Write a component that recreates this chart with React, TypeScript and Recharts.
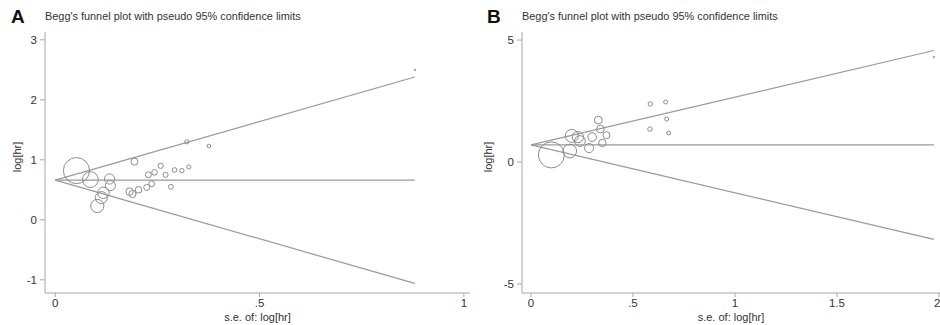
import React from 'react'
import { ComposedChart, Scatter, XAxis, YAxis, ZAxis, ReferenceLine } from 'recharts'

// Panel A: standard errors and log hazard ratios
const seA = [0.052, 0.086, 0.133, 0.135, 0.118, 0.113, 0.103, 0.194, 0.182, 0.189, 0.204, 0.224, 0.236, 0.228, 0.243, 0.258, 0.27, 0.283, 0.292, 0.31, 0.327, 0.322, 0.376, 0.88]
const logHrA = [0.82, 0.67, 0.68, 0.57, 0.45, 0.37, 0.23, 0.97, 0.47, 0.43, 0.5, 0.54, 0.6, 0.75, 0.79, 0.9, 0.75, 0.55, 0.83, 0.82, 0.88, 1.3, 1.23, 2.5]
const centerA = [{ se: 0, v: 0.66 }, { se: 0.88, v: 0.66 }]
const upperA = [{ se: 0, v: 0.66 }, { se: 0.88, v: 2.38 }]
const lowerA = [{ se: 0, v: 0.66 }, { se: 0.88, v: -1.06 }]
const xTicksA = [0, 0.5, 1]
const yTicksA = [-1, 0, 1, 2, 3]

// Panel B
const seB = [0.1, 0.19, 0.2, 0.23, 0.24, 0.3, 0.285, 0.33, 0.34, 0.37, 0.35, 0.585, 0.66, 0.665, 0.583, 0.675, 1.975]
const logHrB = [0.29, 0.45, 1.07, 1.02, 0.86, 1.02, 0.57, 1.72, 1.35, 1.1, 0.78, 2.38, 2.46, 1.76, 1.35, 1.19, 4.3]
const centerB = [{ se: 0, v: 0.7 }, { se: 1.975, v: 0.7 }]
const upperB = [{ se: 0, v: 0.7 }, { se: 1.975, v: 4.57 }]
const lowerB = [{ se: 0, v: 0.7 }, { se: 1.975, v: -3.17 }]
const xTicksB = [0, 0.5, 1, 1.5, 2]
const yTicksB = [-5, 0, 5]

const TITLE = "Begg's funnel plot with pseudo 95% confidence limits"
const FONT = '"Liberation Sans", Arial, sans-serif'
const AXIS = '#a8a8a8'
const LINE = '#9a9a9a'
const MARK = '#8c8c8c'

const fmt = (v: number) => {
  if (v === 0) return '0'
  if (Number.isInteger(v)) return String(v)
  return String(v).replace(/^0\./, '.')
}

const Circle = (props: any) => {
  const r = Math.max((props.width || 0) / 2, 0.7)
  return <circle cx={props.cx} cy={props.cy} r={r} fill="none" stroke={MARK} strokeWidth={1} />
}

function Funnel({ se, logHr, center, upper, lower, xDomain, yDomain, xTicks, yTicks, zDomain, zRange, yWidth }: any) {
  const table = se.map((s: number, i: number) => ({ se: s, v: logHr[i], w: 1 / (s * s) }))
  const seg = (pts: any[]) => pts.map((p) => ({ x: p.se, y: p.v }))
  const tick = { fontSize: 11.5, fill: '#333', fontFamily: FONT }
  return (
    <ComposedChart width={470} height={325} margin={{ top: 32, right: 0, bottom: 0, left: 0 }}>
      <XAxis
        type="number"
        dataKey="se"
        domain={xDomain}
        ticks={xTicks}
        tickFormatter={fmt}
        allowDataOverflow
        height={32}
        stroke={AXIS}
        tick={tick}
        tickSize={4}
        tickMargin={2}
        label={{ value: 's.e. of: log[hr]', position: 'insideBottom', offset: 4, fontSize: 11, fill: '#333', fontFamily: FONT }}
      />
      <YAxis
        type="number"
        dataKey="v"
        domain={yDomain}
        ticks={yTicks}
        tickFormatter={fmt}
        allowDataOverflow
        width={yWidth}
        stroke={AXIS}
        tick={tick}
        tickSize={5}
        tickMargin={3}
      />
      <ZAxis type="number" dataKey="w" domain={zDomain} range={zRange} />
      <ReferenceLine segment={seg(center)} stroke={LINE} strokeWidth={1.2} ifOverflow="visible" />
      <ReferenceLine segment={seg(upper)} stroke={LINE} strokeWidth={1.2} ifOverflow="visible" />
      <ReferenceLine segment={seg(lower)} stroke={LINE} strokeWidth={1.2} ifOverflow="visible" />
      <Scatter data={table} shape={Circle} isAnimationActive={false} />
    </ComposedChart>
  )
}

const panelLetter: React.CSSProperties = { position: 'absolute', top: 6, fontSize: 19, fontWeight: 700, fontFamily: FONT, color: '#111' }
const titleStyle: React.CSSProperties = { position: 'absolute', top: 10, fontSize: 10.9, fontFamily: FONT, color: '#333', whiteSpace: 'nowrap' }
const yLabel: React.CSSProperties = { position: 'absolute', top: 157, fontSize: 11, fontFamily: FONT, color: '#333', transform: 'translate(-50%, -50%) rotate(-90deg)', whiteSpace: 'nowrap' }

export default function App() {
  return (
    <div style={{ position: 'absolute', left: 0, top: 0, width: 940, height: 325, background: '#fff', fontFamily: FONT }}>
      <div style={{ position: 'absolute', left: 0, top: 0 }}>
        <Funnel
          se={seA}
          logHr={logHrA}
          center={centerA}
          upper={upperA}
          lower={lowerA}
          xDomain={[-0.025, 1.015]}
          yDomain={[-1.22, 3.13]}
          xTicks={xTicksA}
          yTicks={yTicksA}
          zDomain={[0, 400]}
          zRange={[0, 580]}
          yWidth={45}
        />
      </div>
      <div style={{ position: 'absolute', left: 470, top: 0 }}>
        <Funnel
          se={seB}
          logHr={logHrB}
          center={centerB}
          upper={upperB}
          lower={lowerB}
          xDomain={[-0.044, 2.005]}
          yDomain={[-5.37, 5.33]}
          xTicks={xTicksB}
          yTicks={yTicksB}
          zDomain={[0, 100]}
          zRange={[0, 530]}
          yWidth={52}
        />
      </div>
      <div style={{ ...panelLetter, left: 11 }}>A</div>
      <div style={{ ...titleStyle, left: 45 }}>{TITLE}</div>
      <div style={{ ...yLabel, left: 17 }}>log[hr]</div>
      <div style={{ ...panelLetter, left: 487 }}>B</div>
      <div style={{ ...titleStyle, left: 522 }}>{TITLE}</div>
      <div style={{ ...yLabel, left: 488 }}>log[hr]</div>
    </div>
  )
}
